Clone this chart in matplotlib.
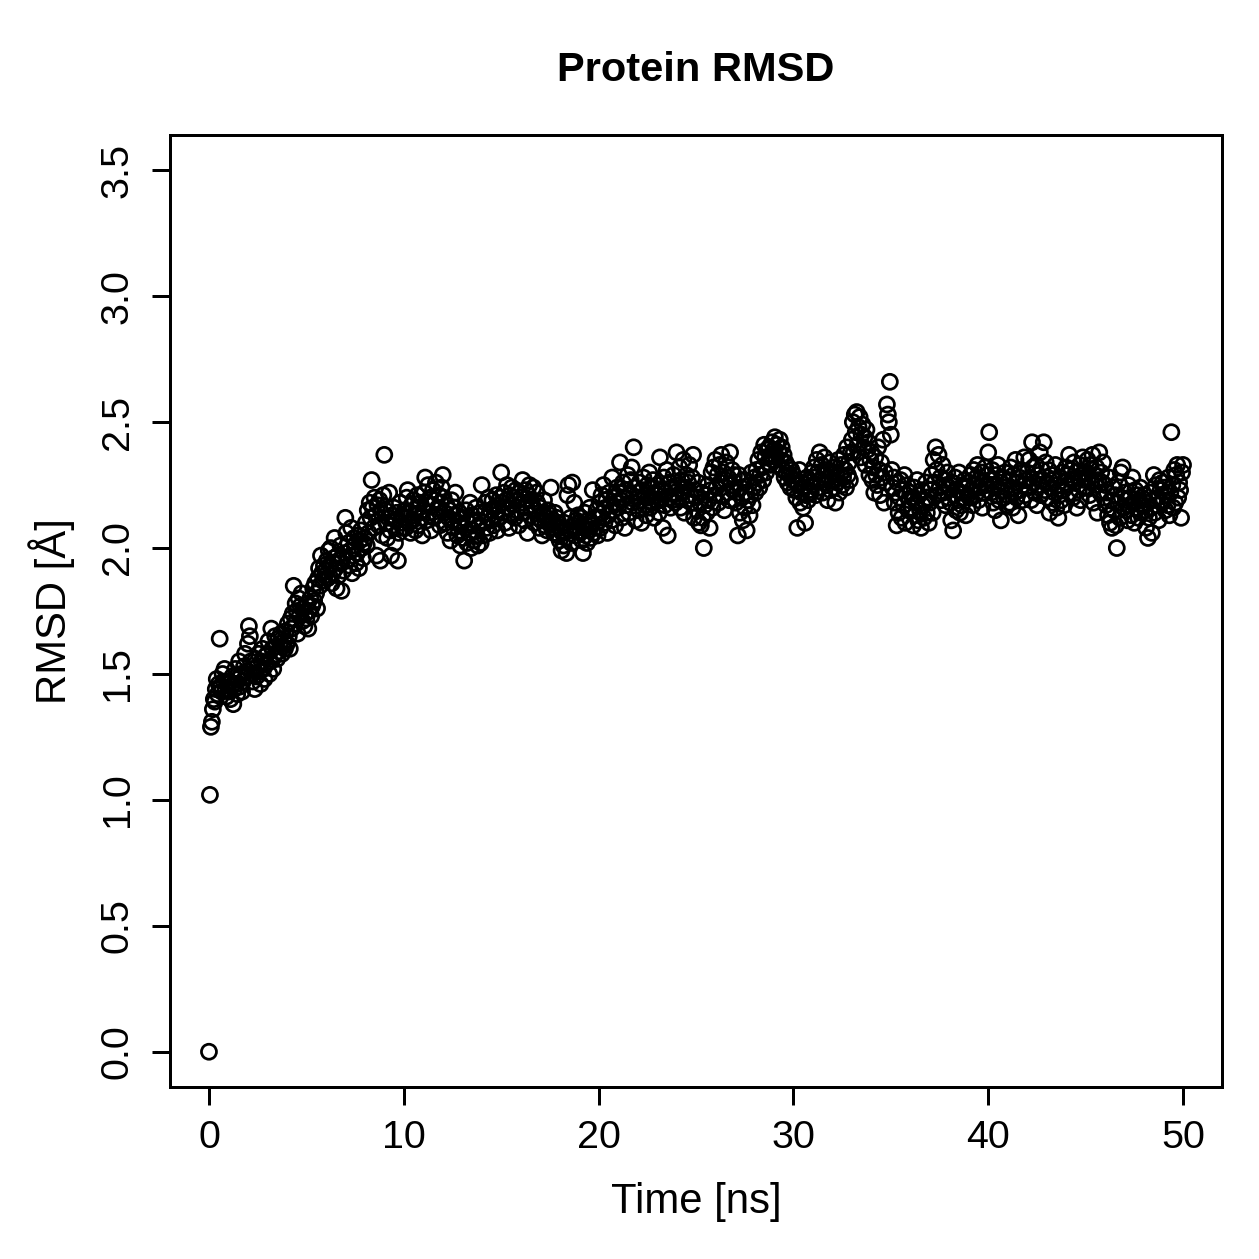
import numpy as np
import matplotlib
matplotlib.use("Agg")
import matplotlib.pyplot as plt
from matplotlib.ticker import FormatStrFormatter

plt.rcParams['font.family'] = ['Liberation Sans', 'DejaVu Sans']

title = "Protein RMSD"
xlabel = "Time [ns]"
ylabel = "RMSD [Å]"
time_step = 0.05  # ns between frames
xticks = [0, 10, 20, 30, 40, 50]
yticks = [0.0, 0.5, 1.0, 1.5, 2.0, 2.5, 3.0, 3.5]

# RMSD values (Å), one frame per 0.05 ns
rmsd = [
    0.00, 1.02, 1.29, 1.31, 1.36, 1.40, 1.39, 1.44, 1.48, 1.42, 1.46, 1.64, 1.45, 1.43, 1.50, 1.47, 1.52, 1.44, 1.41, 1.46,
    1.43, 1.47, 1.40, 1.45, 1.49, 1.38, 1.44, 1.52, 1.46, 1.42, 1.48, 1.55, 1.45, 1.50, 1.43, 1.47, 1.53, 1.58, 1.49, 1.51,
    1.62, 1.69, 1.65, 1.55, 1.50, 1.47, 1.52, 1.44, 1.56, 1.49, 1.53, 1.58, 1.51, 1.46, 1.55, 1.60, 1.52, 1.48, 1.57, 1.54,
    1.58, 1.63, 1.50, 1.55, 1.68, 1.60, 1.52, 1.57, 1.65, 1.61, 1.56, 1.64, 1.59, 1.62, 1.66, 1.58, 1.61, 1.63, 1.60, 1.67,
    1.62, 1.70, 1.65, 1.60, 1.72, 1.68, 1.74, 1.85, 1.70, 1.78, 1.75, 1.66, 1.80, 1.73, 1.77, 1.82, 1.71, 1.76, 1.69, 1.74,
    1.72, 1.78, 1.68, 1.75, 1.80, 1.73, 1.77, 1.84, 1.79, 1.86, 1.82, 1.76, 1.88, 1.92, 1.85, 1.97, 1.90, 1.87, 1.93, 1.89,
    1.91, 1.95, 1.88, 1.99, 1.93, 2.00, 1.86, 1.90, 1.96, 2.04, 1.92, 1.84, 1.97, 1.89, 1.94, 2.01, 1.83, 1.96, 1.91, 1.98,
    2.12, 2.06, 1.95, 2.02, 1.93, 1.99, 2.08, 1.90, 1.97, 2.04, 2.01, 1.94, 1.98, 2.05, 1.92, 2.03, 2.07, 2.00, 1.96, 2.02,
    2.04, 2.10, 2.01, 2.15, 2.06, 2.18, 2.12, 2.27, 2.16, 2.08, 2.20, 2.13, 1.97, 2.17, 2.09, 2.19, 1.95, 2.14, 2.05, 2.21,
    2.37, 2.15, 2.10, 2.04, 2.12, 2.22, 2.07, 1.97, 2.13, 2.09, 2.16, 2.02, 2.11, 2.14, 1.95, 2.06, 2.18, 2.10, 2.13, 2.08,
    2.12, 2.15, 2.08, 2.20, 2.23, 2.10, 2.14, 2.06, 2.17, 2.11, 2.19, 2.13, 2.07, 2.16, 2.21, 2.09, 2.14, 2.18, 2.12, 2.05,
    2.15, 2.22, 2.28, 2.18, 2.11, 2.25, 2.14, 2.20, 2.07, 2.17, 2.23, 2.12, 2.19, 2.26, 2.13, 2.16, 2.21, 2.09, 2.18, 2.24,
    2.29, 2.20, 2.14, 2.10, 2.17, 2.06, 2.12, 2.15, 2.03, 2.19, 2.11, 2.08, 2.16, 2.22, 2.13, 2.05, 2.10, 2.14, 2.01, 2.09,
    2.12, 2.04, 1.95, 2.08, 2.15, 2.02, 2.10, 2.06, 2.18, 2.00, 2.13, 2.07, 2.03, 2.11, 2.16, 2.05, 2.01, 2.09, 2.14, 2.02,
    2.25, 2.10, 2.05, 2.14, 2.18, 2.08, 2.12, 2.20, 2.06, 2.15, 2.11, 2.19, 2.09, 2.16, 2.13, 2.21, 2.07, 2.17, 2.12, 2.20,
    2.30, 2.18, 2.14, 2.22, 2.10, 2.19, 2.25, 2.16, 2.08, 2.21, 2.13, 2.24, 2.17, 2.20, 2.12, 2.23, 2.15, 2.19, 2.09, 2.22,
    2.20, 2.14, 2.27, 2.18, 2.11, 2.23, 2.16, 2.06, 2.21, 2.25, 2.13, 2.19, 2.17, 2.24, 2.10, 2.15, 2.22, 2.18, 2.12, 2.08,
    2.16, 2.11, 2.05, 2.14, 2.19, 2.09, 2.12, 2.07, 2.15, 2.10, 2.13, 2.24, 2.08, 2.11, 2.06, 2.14, 2.09, 2.12, 2.05, 2.10,
    2.03, 2.08, 1.99, 2.06, 2.01, 2.10, 2.04, 1.98, 2.21, 2.25, 2.07, 2.12, 2.02, 2.26, 2.09, 2.18, 2.05, 2.11, 2.08, 2.13,
    2.10, 2.06, 2.12, 2.03, 1.98, 2.08, 2.14, 2.05, 2.02, 2.11, 2.07, 2.16, 2.04, 2.09, 2.23, 2.06, 2.12, 2.08, 2.15, 2.05,
    2.12, 2.18, 2.08, 2.21, 2.14, 2.25, 2.10, 2.16, 2.19, 2.06, 2.13, 2.22, 2.17, 2.11, 2.28, 2.15, 2.20, 2.09, 2.18, 2.24,
    2.16, 2.22, 2.34, 2.19, 2.12, 2.26, 2.20, 2.08, 2.23, 2.17, 2.29, 2.14, 2.21, 2.27, 2.32, 2.18, 2.40, 2.24, 2.11, 2.20,
    2.22, 2.15, 2.26, 2.19, 2.10, 2.23, 2.28, 2.17, 2.21, 2.13, 2.25, 2.20, 2.30, 2.16, 2.24, 2.18, 2.27, 2.12, 2.22, 2.19,
    2.21, 2.25, 2.14, 2.36, 2.19, 2.23, 2.08, 2.28, 2.17, 2.22, 2.31, 2.05, 2.20, 2.26, 2.16, 2.24, 2.19, 2.29, 2.22, 2.18,
    2.38, 2.25, 2.20, 2.32, 2.16, 2.27, 2.22, 2.35, 2.14, 2.24, 2.29, 2.19, 2.26, 2.33, 2.21, 2.18, 2.28, 2.37, 2.12, 2.23,
    2.20, 2.15, 2.26, 2.10, 2.18, 2.09, 2.22, 2.12, 2.00, 2.17, 2.21, 2.14, 2.25, 2.19, 2.08, 2.23, 2.30, 2.16, 2.32, 2.21,
    2.35, 2.24, 2.29, 2.18, 2.33, 2.26, 2.37, 2.21, 2.30, 2.15, 2.27, 2.34, 2.22, 2.28, 2.19, 2.38, 2.25, 2.31, 2.23, 2.29,
    2.26, 2.18, 2.22, 2.05, 2.29, 2.14, 2.24, 2.20, 2.11, 2.27, 2.16, 2.22, 2.07, 2.19, 2.25, 2.13, 2.21, 2.30, 2.17, 2.24,
    2.28, 2.22, 2.31, 2.26, 2.35, 2.24, 2.29, 2.38, 2.32, 2.27, 2.41, 2.36, 2.30, 2.39, 2.34, 2.40, 2.33, 2.37, 2.42, 2.35,
    2.39, 2.44, 2.36, 2.41, 2.33, 2.38, 2.43, 2.35, 2.40, 2.31, 2.37, 2.28, 2.34, 2.30, 2.26, 2.32, 2.29, 2.24, 2.31, 2.27,
    2.29, 2.23, 2.27, 2.20, 2.08, 2.25, 2.31, 2.18, 2.22, 2.26, 2.16, 2.24, 2.10, 2.21, 2.28, 2.19, 2.23, 2.26, 2.22, 2.30,
    2.25, 2.32, 2.28, 2.21, 2.35, 2.30, 2.24, 2.38, 2.27, 2.33, 2.22, 2.29, 2.36, 2.26, 2.31, 2.19, 2.28, 2.34, 2.23, 2.30,
    2.27, 2.32, 2.24, 2.18, 2.30, 2.26, 2.35, 2.22, 2.29, 2.33, 2.25, 2.28, 2.37, 2.31, 2.24, 2.40, 2.29, 2.34, 2.27, 2.38,
    2.43, 2.50, 2.38, 2.53, 2.46, 2.54, 2.41, 2.48, 2.52, 2.36, 2.45, 2.49, 2.40, 2.44, 2.33, 2.47, 2.39, 2.42, 2.29, 2.35,
    2.38, 2.27, 2.32, 2.22, 2.36, 2.29, 2.25, 2.40, 2.31, 2.21, 2.34, 2.28, 2.43, 2.18, 2.30, 2.26, 2.57, 2.53, 2.50, 2.66,
    2.45, 2.31, 2.24, 2.28, 2.18, 2.22, 2.09, 2.26, 2.14, 2.20, 2.27, 2.12, 2.23, 2.17, 2.29, 2.10, 2.21, 2.25, 2.15, 2.19,
    2.22, 2.16, 2.20, 2.09, 2.24, 2.13, 2.18, 2.27, 2.11, 2.21, 2.15, 2.08, 2.23, 2.17, 2.12, 2.19, 2.26, 2.14, 2.20, 2.10,
    2.18, 2.23, 2.29, 2.14, 2.35, 2.26, 2.40, 2.31, 2.21, 2.37, 2.24, 2.28, 2.19, 2.33, 2.22, 2.27, 2.17, 2.25, 2.30, 2.20,
    2.24, 2.18, 2.11, 2.26, 2.07, 2.21, 2.28, 2.15, 2.23, 2.19, 2.30, 2.14, 2.22, 2.17, 2.25, 2.20, 2.27, 2.13, 2.24, 2.21,
    2.26, 2.20, 2.29, 2.23, 2.17, 2.31, 2.25, 2.21, 2.28, 2.33, 2.19, 2.27, 2.24, 2.30, 2.16, 2.26, 2.22, 2.32, 2.25, 2.29,
    2.38, 2.46, 2.27, 2.22, 2.31, 2.18, 2.25, 2.15, 2.29, 2.21, 2.33, 2.19, 2.26, 2.11, 2.23, 2.28, 2.20, 2.30, 2.24, 2.17,
    2.21, 2.27, 2.18, 2.32, 2.24, 2.16, 2.29, 2.22, 2.35, 2.20, 2.26, 2.13, 2.28, 2.23, 2.31, 2.19, 2.25, 2.36, 2.21, 2.27,
    2.30, 2.24, 2.35, 2.28, 2.19, 2.42, 2.32, 2.26, 2.22, 2.33, 2.17, 2.29, 2.25, 2.38, 2.21, 2.31, 2.27, 2.42, 2.23, 2.34,
    2.26, 2.20, 2.31, 2.14, 2.24, 2.29, 2.18, 2.27, 2.22, 2.33, 2.16, 2.25, 2.12, 2.21, 2.28, 2.19, 2.30, 2.23, 2.17, 2.26,
    2.32, 2.25, 2.29, 2.37, 2.22, 2.31, 2.27, 2.20, 2.34, 2.26, 2.30, 2.16, 2.28, 2.23, 2.33, 2.19, 2.29, 2.36, 2.24, 2.27,
    2.30, 2.24, 2.35, 2.28, 2.21, 2.33, 2.26, 2.37, 2.18, 2.29, 2.25, 2.32, 2.14, 2.27, 2.38, 2.22, 2.30, 2.26, 2.34, 2.20,
    2.25, 2.17, 2.22, 2.13, 2.28, 2.10, 2.19, 2.08, 2.24, 2.15, 2.21, 2.09, 2.00, 2.18, 2.26, 2.12, 2.30, 2.20, 2.32, 2.16,
    2.22, 2.15, 2.19, 2.11, 2.25, 2.17, 2.20, 2.13, 2.28, 2.18, 2.10, 2.23, 2.16, 2.21, 2.12, 2.19, 2.24, 2.14, 2.20, 2.17,
    2.21, 2.15, 2.08, 2.18, 2.04, 2.12, 2.22, 2.16, 2.06, 2.19, 2.29, 2.14, 2.25, 2.17, 2.20, 2.11, 2.27, 2.23, 2.18, 2.26,
    2.19, 2.24, 2.15, 2.21, 2.17, 2.28, 2.13, 2.22, 2.46, 2.25, 2.16, 2.31, 2.18, 2.29, 2.33, 2.20, 2.26, 2.23, 2.12, 2.30, 2.33,
]

time = np.arange(len(rmsd)) * time_step

W = H = 1259
fig = plt.figure(figsize=(7, 7), dpi=W / 7)
ax = fig.add_axes([170 / W, 1 - 1087 / H, (1222 - 170) / W, (1087 - 135) / H])

ax.scatter(time, rmsd, s=6.0 ** 2, facecolors='none', edgecolors='black', linewidths=1.1)

ax.set_xlim(-2, 52)
ax.set_ylim(-0.14, 3.64)
ax.set_xticks(xticks)
ax.set_yticks(yticks)
ax.yaxis.set_major_formatter(FormatStrFormatter('%.1f'))
ax.tick_params(axis='both', direction='out', length=7.2, width=1.2, labelsize=15.8, colors='black')
ax.tick_params(axis='x', pad=6)
ax.tick_params(axis='y', pad=6.5)
for lab in ax.get_yticklabels():
    lab.set_rotation(90)
    lab.set_va('center')
for sp in ax.spines.values():
    sp.set_linewidth(1.2)

fig.text(696 / W, 1 - 70 / H, title, ha='center', va='center', fontsize=16.7, fontweight='bold')
fig.text(696 / W, 1 - 1202 / H, xlabel, ha='center', va='center', fontsize=16.8)
fig.text(52 / W, 1 - 611 / H, ylabel, ha='center', va='center', fontsize=16.8, rotation=90)

fig.savefig('out.png', dpi=W / 7)
